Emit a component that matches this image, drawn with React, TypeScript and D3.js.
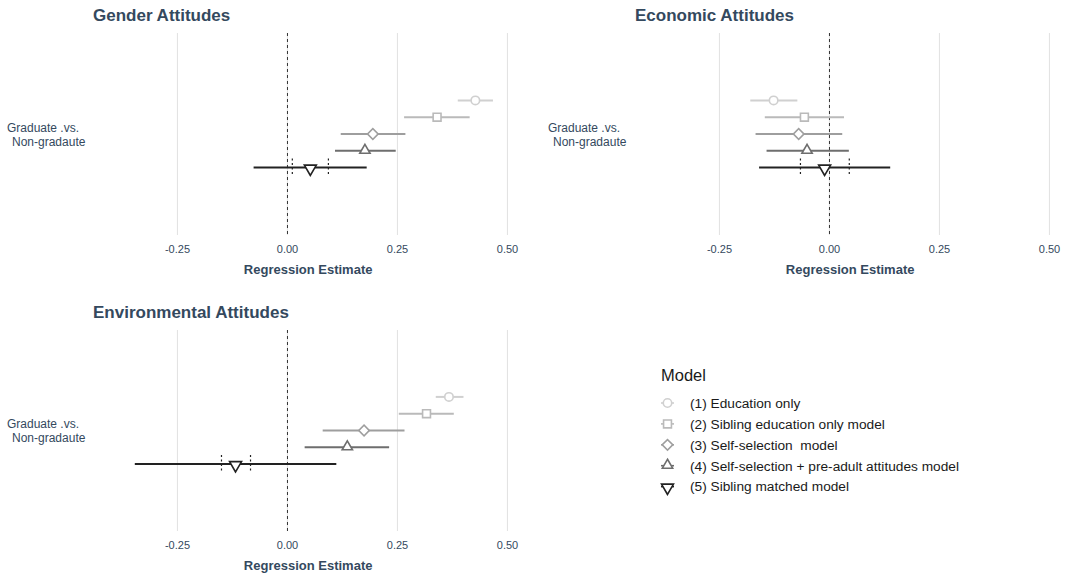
import React from "react";
import * as d3 from "d3";

// Model labels (legend order, top to bottom within each panel)
const models = [
  "(1) Education only",
  "(2) Sibling education only model",
  "(3) Self-selection  model",
  "(4) Self-selection + pre-adult attitudes model",
  "(5) Sibling matched model",
];
const modelColors = ["#d0d0d0", "#bababa", "#9e9e9e", "#6e6e6e", "#222222"];
const modelShapes = ["circle", "square", "diamond", "triangleUp", "triangleDown"];

// Gender attitudes: estimate with interval bounds
const genderEst = [0.427, 0.34, 0.194, 0.176, 0.052];
const genderLo = [0.387, 0.265, 0.121, 0.108, -0.077];
const genderHi = [0.467, 0.414, 0.268, 0.246, 0.18];
const genderInner = [0.011, 0.093];

// Economic attitudes
const economicEst = [-0.127, -0.057, -0.07, -0.051, -0.011];
const economicLo = [-0.18, -0.147, -0.168, -0.143, -0.16];
const economicHi = [-0.073, 0.033, 0.029, 0.044, 0.138];
const economicInner = [-0.066, 0.045];

// Environmental attitudes
const envEst = [0.367, 0.316, 0.174, 0.136, -0.118];
const envLo = [0.337, 0.253, 0.08, 0.039, -0.347];
const envHi = [0.4, 0.378, 0.266, 0.231, 0.111];
const envInner = [-0.15, -0.084];

const xTicks = [-0.25, 0, 0.25, 0.5];
const xTickLabels = ["-0.25", "0.00", "0.25", "0.50"];
const xDomain: [number, number] = [-0.442, 0.536];

const FONT = "'Liberation Sans', Arial, Helvetica, sans-serif";
const TEXT = "#34495e";

function symbolPath(shape: string): { d: string; rotate: number; dy: number } {
  const s = d3.symbol();
  switch (shape) {
    case "circle":
      return { d: s.type(d3.symbolCircle).size(56)() as string, rotate: 0, dy: 0 };
    case "square":
      return { d: s.type(d3.symbolSquare).size(62)() as string, rotate: 0, dy: 0 };
    case "diamond":
      return { d: s.type(d3.symbolSquare).size(56)() as string, rotate: 45, dy: 0 };
    case "triangleUp":
      return { d: s.type(d3.symbolTriangle).size(46)() as string, rotate: 0, dy: -0.5 };
    default:
      return { d: s.type(d3.symbolTriangle).size(62)() as string, rotate: 180, dy: 1 };
  }
}

function Marker({ shape, color, x, y }: { shape: string; color: string; x: number; y: number }) {
  const p = symbolPath(shape);
  return (
    <path
      d={p.d}
      transform={`translate(${x},${y + p.dy}) rotate(${p.rotate})`}
      fill="#ffffff"
      stroke={color}
      strokeWidth={1.6}
    />
  );
}

type PanelProps = {
  title: string;
  left: number;
  top: number;
  bottom: number;
  labelX: number;
  est: number[];
  lo: number[];
  hi: number[];
  inner: number[];
};

function Panel({ title, left, top, bottom, labelX, est, lo, hi, inner }: PanelProps) {
  const width = (xDomain[1] - xDomain[0]) * 440;
  const x = d3.scaleLinear().domain(xDomain).range([left, left + width]);
  const center = (top + bottom) / 2;
  const y = d3
    .scalePoint<number>()
    .domain(models.map((_, i) => i))
    .range([center - 33.6, center + 33.6]);
  const last = models.length - 1;
  return (
    <g>
      <text x={left} y={top - 12} fontFamily={FONT} fontSize={17} fontWeight="bold" fill={TEXT}>
        {title}
      </text>
      {xTicks.map((t) => (
        <line key={"g" + t} x1={x(t)} x2={x(t)} y1={top} y2={bottom} stroke="#e3e3e3" strokeWidth={1.1} />
      ))}
      <line x1={x(0)} x2={x(0)} y1={top} y2={bottom} stroke="#333" strokeWidth={1} strokeDasharray="3,3" />
      {xTicks.map((t, i) => (
        <text
          key={"t" + t}
          x={x(t)}
          y={bottom + 18}
          textAnchor="middle"
          fontFamily={FONT}
          fontSize={11}
          fill={TEXT}
        >
          {xTickLabels[i]}
        </text>
      ))}
      <text
        x={left + width / 2}
        y={bottom + 39}
        textAnchor="middle"
        fontFamily={FONT}
        fontSize={13}
        fontWeight="bold"
        fill={TEXT}
      >
        Regression Estimate
      </text>
      <text x={labelX} y={center - 2.5} fontFamily={FONT} fontSize={12} fill={TEXT}>
        Graduate .vs.
      </text>
      <text x={labelX + 5} y={center + 11.5} fontFamily={FONT} fontSize={12} fill={TEXT}>
        Non-gradaute
      </text>
      {models.map((_, i) => (
        <line
          key={"ci" + i}
          x1={x(lo[i])}
          x2={x(hi[i])}
          y1={y(i)!}
          y2={y(i)!}
          stroke={modelColors[i]}
          strokeWidth={2}
        />
      ))}
      {inner.map((v, k) => (
        <line
          key={"in" + k}
          x1={x(v)}
          x2={x(v)}
          y1={y(last)! - 9}
          y2={y(last)! + 9}
          stroke="#222"
          strokeWidth={1.2}
          strokeDasharray="2,2.5"
        />
      ))}
      {models.map((_, i) => (
        <Marker key={"m" + i} shape={modelShapes[i]} color={modelColors[i]} x={x(est[i])} y={y(i)!} />
      ))}
    </g>
  );
}

function Legend({ x0, y0 }: { x0: number; y0: number }) {
  return (
    <g>
      <text x={x0} y={y0} fontFamily={FONT} fontSize={16.5} fill="#1a1a1a">
        Model
      </text>
      {models.map((m, i) => {
        const cy = y0 + 22 + i * 20.9;
        return (
          <g key={m}>
            <line x1={x0} x2={x0 + 13} y1={cy} y2={cy} stroke={modelColors[i]} strokeWidth={1.6} />
            <Marker shape={modelShapes[i]} color={modelColors[i]} x={x0 + 6.5} y={cy} />
            <text
              x={x0 + 29}
              y={cy + 4.8}
              fontFamily={FONT}
              fontSize={13.7}
              fill="#1a1a1a"
              style={{ whiteSpace: "pre" }}
            >
              {m}
            </text>
          </g>
        );
      })}
    </g>
  );
}

export default function App() {
  return (
    <svg
      width={1070}
      height={573}
      style={{ position: "absolute", left: 0, top: 0, background: "#ffffff" }}
    >
      <rect width={1070} height={573} fill="#ffffff" />
      <Panel
        title="Gender Attitudes"
        left={93}
        top={33}
        bottom={235}
        labelX={7}
        est={genderEst}
        lo={genderLo}
        hi={genderHi}
        inner={genderInner}
      />
      <Panel
        title="Economic Attitudes"
        left={635}
        top={33}
        bottom={235}
        labelX={548}
        est={economicEst}
        lo={economicLo}
        hi={economicHi}
        inner={economicInner}
      />
      <Panel
        title="Environmental Attitudes"
        left={93}
        top={330}
        bottom={531}
        labelX={7}
        est={envEst}
        lo={envLo}
        hi={envHi}
        inner={envInner}
      />
      <Legend x0={661} y0={381} />
    </svg>
  );
}
